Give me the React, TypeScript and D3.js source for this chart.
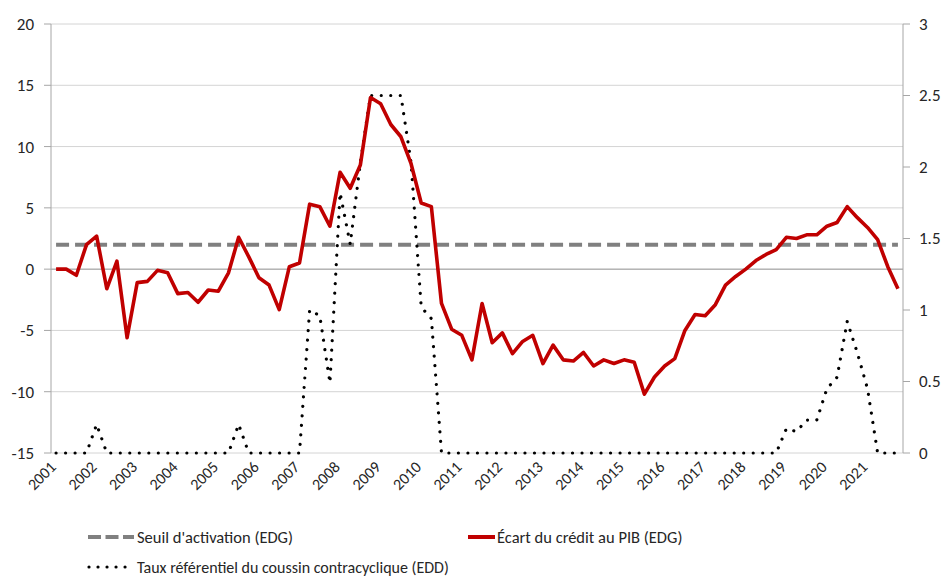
import React from "react";
import * as d3 from "d3";

const years = [2001, 2002, 2003, 2004, 2005, 2006, 2007, 2008, 2009, 2010, 2011, 2012, 2013, 2014, 2015, 2016, 2017, 2018, 2019, 2020, 2021];
const quarterLabels = ["T1", "T2", "T3", "T4"];
const categories = years.flatMap((y) => quarterLabels.map((q) => `${y}${q}`));

// Écart du crédit au PIB (EDG) — left axis
const creditGap = [
  0, 0, -0.5, 2.0, 2.7, -1.6, 0.65, -5.6,
  -1.1, -1.0, -0.1, -0.3, -2.0, -1.9, -2.7, -1.7,
  -1.8, -0.3, 2.6, 1.0, -0.7, -1.3, -3.3, 0.2,
  0.5, 5.3, 5.1, 3.5, 7.9, 6.6, 8.5, 14.0,
  13.5, 11.8, 10.8, 8.6, 5.4, 5.1, -2.8, -4.9,
  -5.4, -7.4, -2.8, -6.0, -5.2, -6.9, -5.9, -5.4,
  -7.7, -6.2, -7.4, -7.5, -6.8, -7.9, -7.4, -7.7,
  -7.4, -7.6, -10.2, -8.8, -7.9, -7.3, -5.0, -3.7,
  -3.8, -2.9, -1.3, -0.6, 0.0, 0.7, 1.2, 1.6,
  2.6, 2.5, 2.8, 2.8, 3.5, 3.8, 5.1, 4.2,
  3.4, 2.4, 0.2, -1.6,
];

// Seuil d'activation (EDG) — left axis
const threshold = categories.map(() => 2);

// Taux référentiel du coussin contracyclique (EDD) — right axis
const bufferRate = [
  0, 0, 0, 0, 0.2, 0, 0, 0,
  0, 0, 0, 0, 0, 0, 0, 0,
  0, 0, 0.2, 0, 0, 0, 0, 0,
  0, 1.0, 0.96, 0.49, 1.82, 1.46, 2.03, 2.5,
  2.5, 2.5, 2.5, 2.03, 1.02, 0.94, 0, 0,
  0, 0, 0, 0, 0, 0, 0, 0,
  0, 0, 0, 0, 0, 0, 0, 0,
  0, 0, 0, 0, 0, 0, 0, 0,
  0, 0, 0, 0, 0, 0, 0, 0,
  0.17, 0.15, 0.23, 0.23, 0.45, 0.53, 0.92, 0.7,
  0.45, 0, 0, 0,
];

const leftTicks = [-15, -10, -5, 0, 5, 10, 15, 20];
const rightTicks = [0, 0.5, 1, 1.5, 2, 2.5, 3];

const legendLabels = {
  threshold: "Seuil d'activation (EDG)",
  gap: "Écart du crédit au PIB (EDG)",
  rate: "Taux référentiel du coussin contracyclique (EDD)",
};

const W = 946;
const H = 578;
const M = { left: 51, right: 903, top: 24, bottom: 453 };
const FONT = "Carlito, Calibri, 'Liberation Sans', Arial, sans-serif";

export default function App() {
  const x = d3.scaleBand<string>().domain(categories).range([M.left, M.right]).paddingInner(0).paddingOuter(0);
  const xc = (i: number) => (x(categories[i]) as number) + x.bandwidth() / 2;
  const yL = d3.scaleLinear().domain([-15, 20]).range([M.bottom, M.top]);
  const yR = d3.scaleLinear().domain([0, 3]).range([M.bottom, M.top]);

  const lineL = d3.line<number>().x((_, i) => xc(i)).y((d) => yL(d));
  const lineR = d3.line<number>().x((_, i) => xc(i)).y((d) => yR(d));

  return (
    <svg width={W} height={H} style={{ position: "fixed", left: 0, top: 0, background: "#fff" }} fontFamily={FONT}>
      <rect x={0} y={0} width={W} height={H} fill="#fff" />
      {/* gridlines */}
      {leftTicks.map((t) => (
        <line key={"g" + t} x1={M.left} x2={M.right} y1={yL(t)} y2={yL(t)} stroke={t === 0 ? "#8c8c8c" : "#d4d4d4"} strokeWidth={1} />
      ))}
      {/* left axis */}
      <line x1={M.left} x2={M.left} y1={M.top} y2={M.bottom} stroke="#a6a6a6" />
      {leftTicks.map((t) => (
        <g key={"l" + t}>
          <line x1={M.left - 7} x2={M.left} y1={yL(t)} y2={yL(t)} stroke="#a6a6a6" />
          <text x={34} y={yL(t)} dy="0.35em" textAnchor="end" fontSize={17} fill="#262626">{t}</text>
        </g>
      ))}
      {/* right axis */}
      <line x1={M.right} x2={M.right} y1={M.top} y2={M.bottom} stroke="#a6a6a6" />
      {rightTicks.map((t) => (
        <g key={"r" + t}>
          <line x1={M.right} x2={M.right + 7} y1={yR(t)} y2={yR(t)} stroke="#a6a6a6" />
          <text x={919} y={yR(t)} dy="0.35em" textAnchor="start" fontSize={17} fill="#262626">{t}</text>
        </g>
      ))}
      {/* x labels */}
      {years.map((yv, k) => {
        const ex = xc(k * 4) + 1;
        return (
          <g key={"x" + yv} transform={`translate(${ex},468) rotate(-45)`}>
            <text textAnchor="end" fontSize={16} fill="#262626">{yv}</text>
          </g>
        );
      })}
      {/* series */}
      <path d={lineL(threshold) as string} fill="none" stroke="#808080" strokeWidth={4} strokeDasharray="13 6" />
      <path d={lineR(bufferRate) as string} fill="none" stroke="#000" strokeWidth={3.2} strokeDasharray="0.01 9.5" strokeLinecap="round" />
      <path d={lineL(creditGap) as string} fill="none" stroke="#c00000" strokeWidth={3.6} strokeLinejoin="round" />
      {/* legend */}
      <line x1={88} x2={134} y1={537} y2={537} stroke="#808080" strokeWidth={4} strokeDasharray="13 4.5" />
      <text x={137} y={537} dy="0.35em" fontSize={16.5} fill="#262626">{legendLabels.threshold}</text>
      <line x1={468} x2={495} y1={537} y2={537} stroke="#c00000" strokeWidth={4} />
      <text x={497} y={537} dy="0.35em" fontSize={16.5} fill="#262626">{legendLabels.gap}</text>
      <line x1={89} x2={134} y1={567} y2={567} stroke="#000" strokeWidth={3.2} strokeDasharray="0.01 9" strokeLinecap="round" />
      <text x={137} y={567} dy="0.35em" fontSize={16} fill="#262626">{legendLabels.rate}</text>
    </svg>
  );
}
